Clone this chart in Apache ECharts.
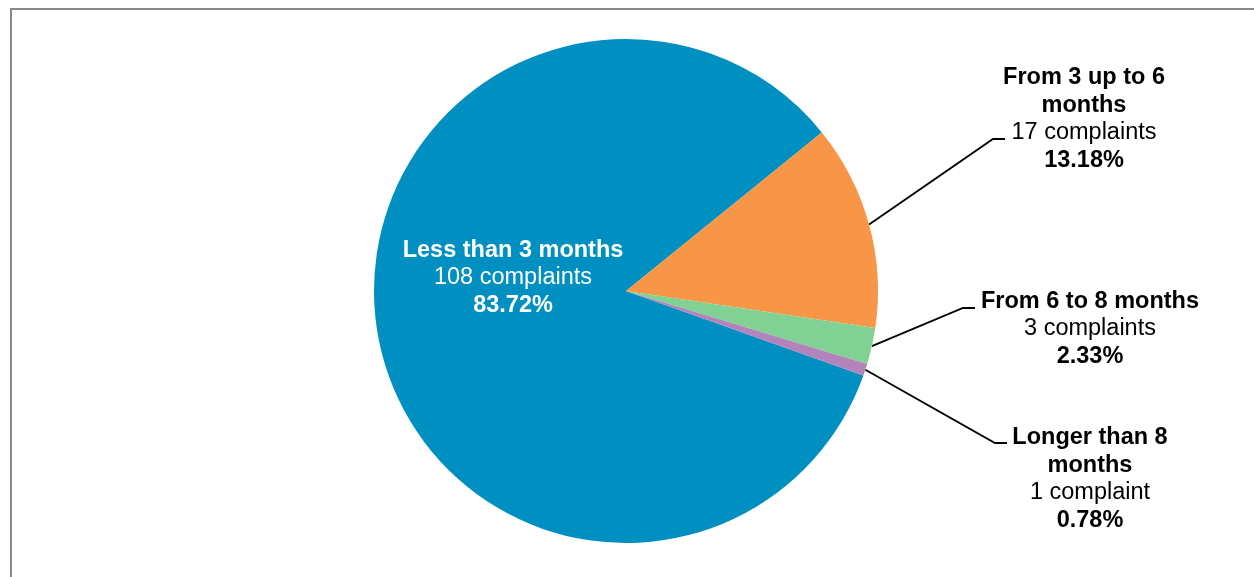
<!DOCTYPE html>
<html>
<head>
<meta charset="utf-8">
<script src="https://cdn.jsdelivr.net/npm/echarts@6/dist/echarts.min.js"></script>
<style>
html,body{margin:0;padding:0;background:#fff;}
#chart{width:1254px;height:577px;}
</style>
</head>
<body>
<div id="chart"></div>
<script>
// Data
const categories = ['Less than 3 months', 'From 3 up to 6 months', 'From 6 to 8 months', 'Longer than 8 months'];
const labelNames = ['Less than 3 months', 'From 3 up to 6\nmonths', 'From 6 to 8 months', 'Longer than 8\nmonths'];
const complaints = [108, 17, 3, 1];
const percentLabels = ['83.72%', '13.18%', '2.33%', '0.78%'];
const colors = ['#008FC1', '#F79646', '#82D194', '#B383BB'];

// Label layout (positions only)
const labelCenters = [[513, 278], [1084, 119], [1090, 329], [1090, 479]];
const lineEnds = [null, [993, 1005, 139], [963, 975, 308], [995, 1007, 443]];

const FS = 23.5, LH = 27.4;

const chart = echarts.init(document.getElementById('chart'), null, {renderer: 'canvas'});

const seriesData = categories.map((c, i) => {
  const unit = complaints[i] === 1 ? ' complaint' : ' complaints';
  const lines = labelNames[i].split('\n').map(s => '{b|' + s + '}');
  lines.push('{n|' + complaints[i] + unit + '}');
  lines.push('{b|' + percentLabels[i] + '}');
  const col = i === 0 ? '#ffffff' : '#000000';
  return {
    name: c,
    value: complaints[i],
    itemStyle: {color: colors[i]},
    label: {
      formatter: lines.join('\n'),
      rich: {
        b: {fontFamily: 'Liberation Sans, Arial, sans-serif', fontWeight: 'bold', fontSize: FS, lineHeight: LH, color: col, align: 'center'},
        n: {fontFamily: 'Liberation Sans, Arial, sans-serif', fontWeight: 'normal', fontSize: FS, lineHeight: LH, color: col, align: 'center'}
      }
    },
    labelLine: {show: i !== 0}
  };
});

const option = {
  animation: false,
  graphic: [{
    type: 'rect',
    shape: {x: 11, y: 9, width: 1400, height: 800},
    style: {fill: 'none', stroke: '#888888', lineWidth: 2},
    silent: true,
    z: 0
  }],
  series: [{
    type: 'pie',
    center: [626, 291],
    radius: [0, 252],
    startAngle: 340.4,
    clockwise: true,
    avoidLabelOverlap: false,
    data: seriesData,
    label: {show: true, position: 'outside'},
    labelLine: {show: true, length: 20, length2: 10, lineStyle: {color: '#000', width: 1.8}},
    emphasis: {disabled: true},
    labelLayout: function (params) {
      const i = params.dataIndex;
      const c = labelCenters[i];
      const res = {x: c[0], y: c[1], align: 'center', verticalAlign: 'middle'};
      if (lineEnds[i] && params.labelLinePoints) {
        const a = params.labelLinePoints[0];
        const e = lineEnds[i];
        res.labelLinePoints = [[a[0], a[1]], [e[0], e[2]], [e[1], e[2]]];
      }
      return res;
    }
  }]
};
chart.setOption(option);
</script>
</body>
</html>
